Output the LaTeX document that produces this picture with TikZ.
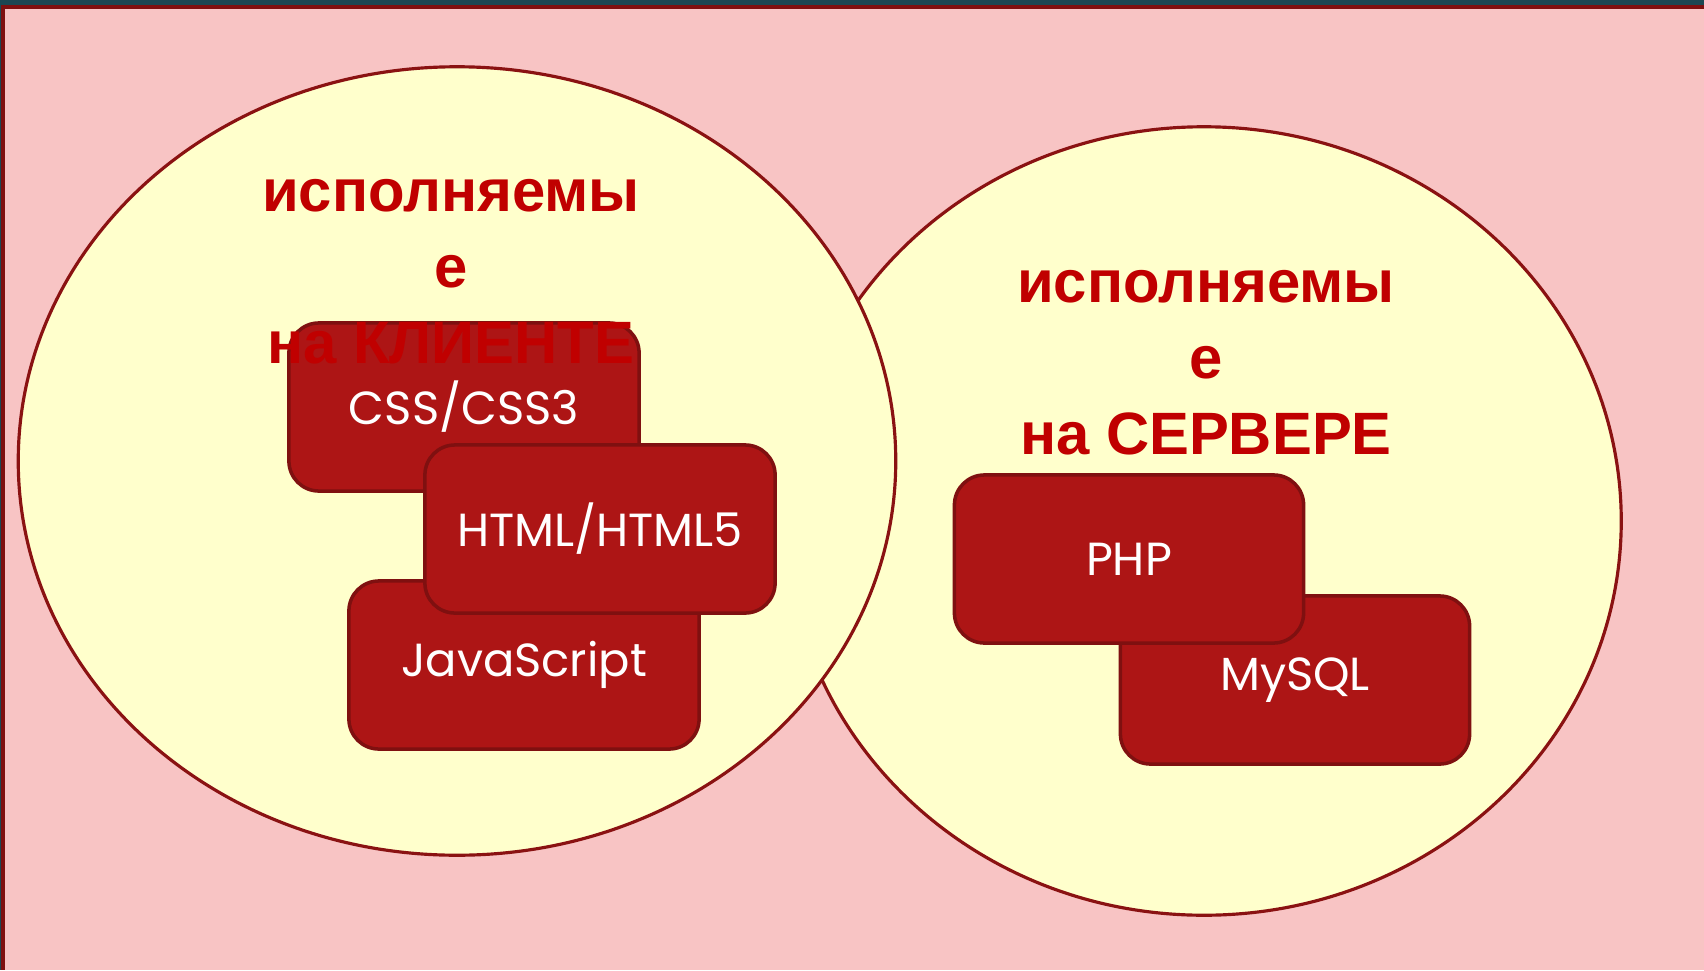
\documentclass[tikz,border=0pt]{standalone}
\usepackage{fontspec}
\setmainfont{Liberation Sans}
\newfontfamily\boxfont{Poppins}
\usetikzlibrary{shapes.geometric}
\definecolor{slidebg}{HTML}{F8C4C4}
\definecolor{topbar}{HTML}{1B4753}
\definecolor{frame}{HTML}{7E1010}
\definecolor{cream}{HTML}{FFFFCC}
\definecolor{ovalline}{HTML}{8A1212}
\definecolor{boxfill}{HTML}{AD1515}
\definecolor{boxline}{HTML}{7F1010}
\definecolor{titlered}{HTML}{C00000}
\tikzset{oval/.style={ellipse,draw=ovalline,fill=cream,line width=0.9pt,inner sep=0pt},
	techbox/.style={rectangle,draw=boxline,fill=boxfill,line width=1pt,
		rounded corners=0.3cm,minimum width=3.45cm,minimum height=1.68cm,
		text=white,font=\boxfont\fontsize{13.2}{15}\selectfont},
	heading/.style={align=center,text=titlered,
		font=\bfseries\fontsize{17}{21.6}\selectfont}}

\begin{document}
\begin{tikzpicture}
	[x=0.01cm,y=-0.01cm]
	\useasboundingbox (0,0) rectangle (1704,970);
	\fill[topbar] (0,0) rectangle (1704,970);
	\fill[frame] (1,5) rectangle (1704,970);
	\fill[slidebg] (5,9) rectangle (1704,970);
	% the two ovals
	\node[oval,minimum width=8.34cm,minimum height=7.88cm] (server) at (1204,521) {};
	\node[oval,minimum width=8.77cm,minimum height=7.88cm] (client) at (457,461) {};
	% client side
	\node[techbox,minimum width=3.5cm] (css) at (464,407) {CSS/CSS3};
	\node[techbox,minimum width=3.5cm] (js) at (524,665) {JavaScript};
	\node[techbox,minimum width=3.5cm] (html) at (600,529) {HTML/HTML5};
	% server side
	\node[techbox,minimum width=3.49cm] (mysql) at (1295,680) {MySQL};
	\node[techbox,minimum width=3.49cm] (php) at (1129,559) {PHP};
	% titles
	\node[heading] (clienttitle) at (451,272) {исполняемы\\е\\на КЛИЕНТЕ};
	\node[heading] (servertitle) at (1206,363) {исполняемы\\е\\на СЕРВЕРЕ};
\end{tikzpicture}
\end{document}
